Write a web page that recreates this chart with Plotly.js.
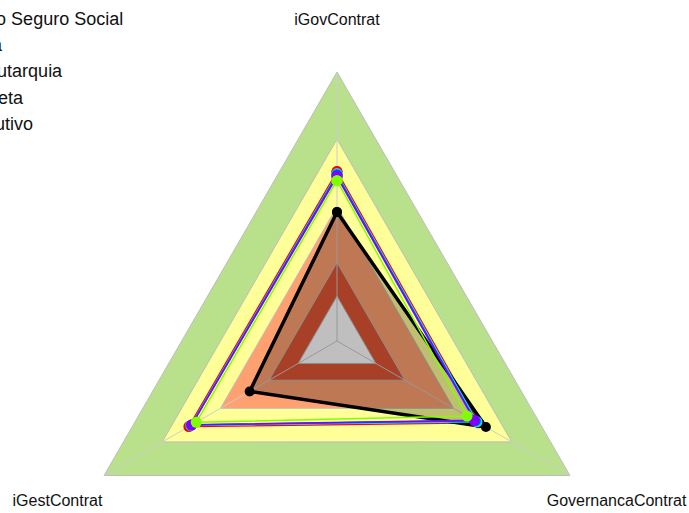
<!DOCTYPE html>
<html>
<head>
<meta charset="utf-8">
<script src="https://cdn.plot.ly/plotly-3.0.1.min.js"></script>
<style>
  html, body { margin: 0; padding: 0; overflow: hidden; background: #fff; }
</style>
</head>
<body>
<div id="radar" style="width:689px;height:690px;"></div>
<script>
// axes of the radar (clockwise from top)
var axes = ['iGovContrat', 'GovernancaContrat', 'iGestContrat'];

// background bands (outer limit of each band) and their colours
var bandLimits = [1.0, 0.70, 0.40, 0.15, 0];
var bandColors = ['#b9e08b', '#ffff99', '#ffa070', '#e05535', '#ffffff'];

// series
var seriesNames = [
  'Média Geral',
  'Instituto Nacional do Seguro Social',
  'Média Adm. Pública',
  'Média Natureza - Autarquia',
  'Média Ent. Adm Direta',
  'Média: Poder Executivo'
];
var seriesColors = ['#ff0000', '#000000', '#00e5ff', '#0050ff', '#8000ff', '#80ff00'];
var mediaGeral     = [0.556, 0.530, 0.563];
var inss           = [0.375, 0.567, 0.250];
var mediaAdmPub    = [0.546, 0.521, 0.553];
var mediaAutarquia = [0.541, 0.512, 0.550];
var mediaDireta    = [0.533, 0.507, 0.548];
var mediaExecutivo = [0.515, 0.470, 0.525];
var seriesValues = [mediaGeral, inss, mediaAdmPub, mediaAutarquia, mediaDireta, mediaExecutivo];

var rMin = -0.2, rMax = 1.0, rOuter = 1.3;
var labelR = [1.227, 1.24, 1.24];

function closed(a) { return a.concat([a[0]]); }

var traces = [];

// bands, largest first
bandLimits.forEach(function(v, i) {
  traces.push({
    type: 'scatterpolar',
    theta: closed(axes),
    r: closed(axes.map(function() { return v; })),
    mode: 'lines',
    fill: 'toself',
    fillcolor: bandColors[i],
    line: {color: '#bdbdbd', width: 1},
    showlegend: false,
    hoverinfo: 'skip'
  });
});

// spokes from centre to each vertex
var spokeTheta = [], spokeR = [];
axes.forEach(function(a) {
  spokeTheta.push(a, a, null);
  spokeR.push(rMin, rMax, null);
});
traces.push({
  type: 'scatterpolar',
  theta: spokeTheta,
  r: spokeR,
  mode: 'lines',
  line: {color: '#cccccc', width: 1},
  showlegend: false,
  hoverinfo: 'skip'
});

seriesValues.forEach(function(vals, i) {
  var isMain = seriesColors[i] === '#000000';
  traces.push({
    type: 'scatterpolar',
    name: seriesNames[i],
    theta: closed(axes),
    r: closed(vals),
    mode: 'lines+markers',
    fill: isMain ? 'toself' : 'none',
    fillcolor: 'rgba(0,0,0,0.25)',
    line: {color: seriesColors[i], width: isMain ? 3.5 : 1.5},
    marker: {color: seriesColors[i], size: isMain ? 10 : 11},
    cliponaxis: false
  });
});

// axis labels
traces.push({
  type: 'scatterpolar',
  theta: axes,
  r: labelR,
  mode: 'text',
  text: axes,
  textposition: 'middle center',
  textfont: {family: 'Liberation Sans, Arial, sans-serif', size: 16, color: '#111'},
  cliponaxis: false,
  showlegend: false,
  hoverinfo: 'skip'
});

var W = 689, H = 690;
var cx = 337, cy = 341, pxPerUnit = 269 / (rMax - rMin);
var R = pxPerUnit * (rOuter - rMin);

var layout = {
  width: W,
  height: H,
  margin: {l: 0, r: 0, t: 0, b: 0, autoexpand: false},
  paper_bgcolor: '#ffffff',
  font: {family: 'Liberation Sans, Arial, sans-serif', color: '#000'},
  showlegend: true,
  legend: {
    x: -0.2859,
    xanchor: 'left',
    y: 1.0391,
    yanchor: 'top',
    bgcolor: 'rgba(0,0,0,0)',
    font: {size: 18, color: '#111'}
  },
  polar: {
    domain: {
      x: [(cx - R) / W, (cx + R) / W],
      y: [(H - cy - R) / H, (H - cy + R) / H]
    },
    gridshape: 'linear',
    bgcolor: 'rgba(0,0,0,0)',
    radialaxis: {visible: false, range: [rMin, rOuter]},
    angularaxis: {
      type: 'category',
      categoryorder: 'array',
      categoryarray: axes,
      rotation: 90,
      direction: 'clockwise',
      showticklabels: false,
      showline: false,
      showgrid: false,
      ticks: ''
    }
  }
};

Plotly.newPlot('radar', traces, layout, {displayModeBar: false, staticPlot: true});
</script>
</body>
</html>
